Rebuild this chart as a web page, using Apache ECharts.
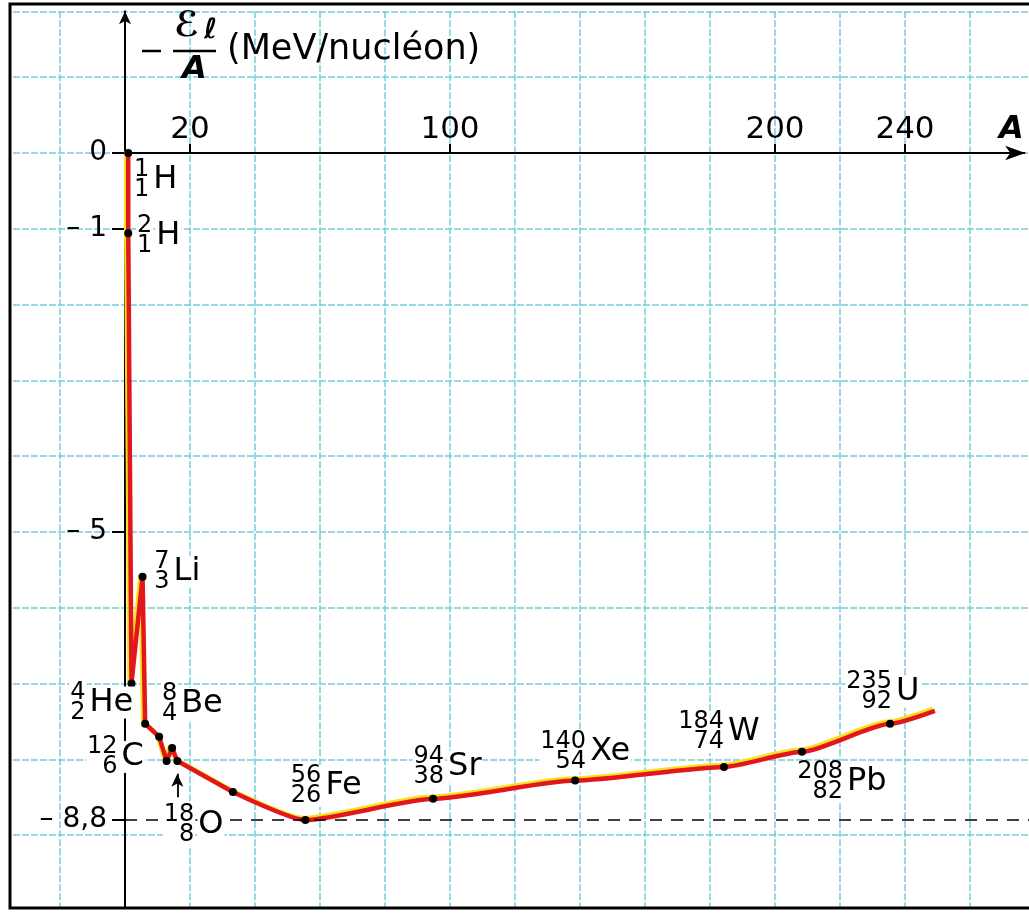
<!DOCTYPE html>
<html>
<head>
<meta charset="utf-8">
<script src="https://cdn.jsdelivr.net/npm/echarts@6/dist/echarts.min.js"></script>
<style>
    html, body { margin: 0; padding: 0; background: #fff; }
    #chart-aston { width: 1029px; height: 913px; }
</style>
</head>
<body>
<div id="chart-aston"></div>
<script>
// courbe d'Aston : -El/A (MeV/nucléon) en fonction de A
var massNumbers = [1, 1, 2, 5.4, 6.2, 10.5, 12.8, 14.5, 16.1, 33.2, 55.5, 94.8, 138.5, 184.3, 208.3, 235.4, 249.2];
var energies = [0, -1.06, -7.0, -5.59, -7.53, -7.7, -8.02, -7.85, -8.02, -8.43, -8.8, -8.52, -8.28, -8.1, -7.9, -7.53, -7.36];
var markedCount = 16;   // le dernier point (bout de la courbe) n'a pas de marque
var smoothFrom = 9;     // la courbe est lissée à partir de ce point

// noyaux annotés (indice du point, symbole, A, Z)
var isotopeIndex = [0, 1, 2, 3, 4, 6, 8, 10, 11, 12, 13, 14, 15];
var isotopeSymbols = ['H', 'H', 'He', 'Li', 'Be', 'C', 'O', 'Fe', 'Sr', 'Xe', 'W', 'Pb', 'U'];
var isotopeA = [1, 2, 4, 7, 8, 12, 18, 56, 94, 140, 184, 208, 235];
var isotopeZ = [1, 1, 2, 3, 4, 6, 8, 26, 38, 54, 74, 82, 92];
var oxygenIndex = 8;

var xTickLabels = [20, 100, 200, 240];
var yTickLabels = [0, -1, -5, -8.8];
var ironLevel = -8.8;

// décalage des étiquettes (px) par rapport au point
var labelOffsets = [[23, 27], [26, 2], [-44, 19], [29, -5], [34, -20], [-47, -4], [19, 64],
    [18, -34], [13, -32], [13, -29], [2, -35], [43, 30], [4, -32]];

var xMin = -40, xMax = 279, yMin = -11, yMax = 1.87;
var pxA = 3.25, pxE = 75.8, x0 = 125, y0 = 153;
var gridLeft = x0 + xMin * pxA, gridTop = y0 - yMax * pxE;
var FONT = 'DejaVu Sans';
var gridLine = { color: '#74cdda', width: 1.5, type: [7, 2] };

function pairs(from, to) {
    var out = [];
    for (var i = from; i < to; i++) out.push([massNumbers[i], energies[i]]);
    return out;
}

var curveStyle = {
    color: '#e3161c',
    width: 4.5,
    shadowColor: '#f6e21c',
    shadowBlur: 0,
    shadowOffsetX: -2,
    shadowOffsetY: -2
};

var numberLabels = isotopeIndex.map(function (p, i) {
    return {
        value: [massNumbers[p], energies[p]],
        label: {
            offset: [labelOffsets[i][0] - 1, labelOffsets[i][1]],
            formatter: '{n|' + isotopeA[i] + '}\n{n|' + isotopeZ[i] + '}'
        }
    };
});
var symbolLabels = isotopeIndex.map(function (p, i) {
    return {
        value: [massNumbers[p], energies[p]],
        label: {
            offset: [labelOffsets[i][0] + 1, labelOffsets[i][1]],
            formatter: isotopeSymbols[i]
        }
    };
});

var dom = document.getElementById('chart-aston');
var myChart = echarts.init(dom, null, { renderer: 'canvas' });

var option = {
    animation: false,
    backgroundColor: '#fff',
    grid: {
        left: gridLeft,
        right: 1029 - (x0 + xMax * pxA),
        top: gridTop,
        bottom: 913 - (y0 - yMin * pxE),
        containLabel: false,
        outerBoundsMode: 'none'
    },
    xAxis: [
        {
            type: 'value', min: xMin, max: xMax, interval: 20,
            axisLine: { show: false, onZero: false },
            axisTick: { show: false },
            axisLabel: { show: false },
            splitLine: { show: true, lineStyle: gridLine }
        },
        {
            // graduations et valeurs de A, posées sur la droite E = 0
            type: 'value', position: 'top', offset: -(y0 - gridTop),
            min: xMin, max: xMax, interval: 20,
            axisLine: { show: false, onZero: false },
            axisTick: { show: true, length: 9, customValues: xTickLabels, lineStyle: { color: '#000', width: 2 } },
            axisLabel: { margin: 8, customValues: xTickLabels, fontSize: 31, fontFamily: FONT, color: '#000' },
            splitLine: { show: false }
        }
    ],
    yAxis: [
        {
            type: 'value', min: yMin, max: yMax, interval: 1,
            axisLine: { show: false, onZero: false },
            axisTick: { show: false },
            axisLabel: { show: false },
            splitLine: { show: true, lineStyle: gridLine }
        },
        {
            // axe vertical posé sur A = 0
            type: 'value', position: 'left', offset: -(x0 - gridLeft),
            min: yMin, max: yMax, interval: 1,
            axisLine: {
                show: true, onZero: false,
                symbol: ['none', 'arrow'], symbolSize: [9, 13],
                lineStyle: { color: '#000', width: 2 }
            },
            axisTick: { show: true, length: 13, customValues: yTickLabels, lineStyle: { color: '#000', width: 2 } },
            axisLabel: {
                margin: 18, customValues: yTickLabels, fontSize: 28, fontFamily: FONT, color: '#000',
                formatter: function (v) {
                    return v === 0 ? '0' : '\u2013 ' + String(Math.abs(v)).replace('.', ',');
                }
            },
            splitLine: { show: false }
        }
    ],
    series: [
        {
            type: 'line',
            data: pairs(0, smoothFrom + 1),
            showSymbol: false,
            lineStyle: curveStyle,
            silent: true,
            z: 3,
            markLine: {
                silent: true,
                symbol: ['none', 'none'],
                label: { show: false },
                lineStyle: { color: '#000', width: 2, type: 'solid', opacity: 1 },
                data: [
                    [
                        { coord: [0, 0] },
                        { coord: [xMax - 2, 0], symbol: 'arrow', symbolSize: [11, 20] }
                    ],
                    [
                        { coord: [0, ironLevel], lineStyle: { color: '#000', width: 1.6, type: [12, 9] } },
                        { coord: [xMax, ironLevel] }
                    ],
                    [
                        { coord: [massNumbers[oxygenIndex], energies[oxygenIndex] - 0.48], lineStyle: { color: '#000', width: 1.8 } },
                        { coord: [massNumbers[oxygenIndex], energies[oxygenIndex] - 0.17], symbol: 'arrow', symbolSize: [9, 13] }
                    ]
                ]
            }
        },
        {
            type: 'line',
            data: pairs(smoothFrom, massNumbers.length),
            smooth: 0.2,
            smoothMonotone: 'x',
            showSymbol: false,
            lineStyle: curveStyle,
            silent: true,
            z: 3
        },
        {
            type: 'scatter',
            data: pairs(0, markedCount),
            symbolSize: 8,
            itemStyle: { color: '#000', opacity: 1 },
            silent: true,
            z: 4
        },
        {
            type: 'scatter',
            data: numberLabels,
            symbolSize: 1,
            itemStyle: { color: 'rgba(0,0,0,0)', opacity: 1 },
            silent: true,
            z: 5,
            label: {
                show: true, position: 'inside', align: 'right', verticalAlign: 'middle',
                backgroundColor: '#fff', padding: [1, 1],
                rich: { n: { fontSize: 24, lineHeight: 20, align: 'right', fontFamily: FONT, color: '#000' } }
            }
        },
        {
            type: 'scatter',
            data: symbolLabels,
            symbolSize: 1,
            itemStyle: { color: 'rgba(0,0,0,0)', opacity: 1 },
            silent: true,
            z: 5,
            label: {
                show: true, position: 'inside', align: 'left', verticalAlign: 'middle',
                backgroundColor: '#fff', padding: [0, 1],
                fontSize: 32, lineHeight: 32, fontFamily: FONT, color: '#000'
            }
        }
    ],
    graphic: [
        // titre de l'axe vertical : - El / A (MeV/nucléon)
        { type: 'line', z: 50, shape: { x1: 142, y1: 51, x2: 161, y2: 51 }, style: { stroke: '#000', lineWidth: 2.5 } },
        { type: 'text', left: 174, top: 9, z: 50, style: { text: '\u2130', font: 'bold 35px "DejaVu Sans"', fill: '#000' } },
        { type: 'text', left: 204, top: 17, z: 50, style: { text: '\u2113', font: 'italic bold 28px "DejaVu Sans"', fill: '#000' } },
        { type: 'line', z: 50, shape: { x1: 173, y1: 51, x2: 216, y2: 51 }, style: { stroke: '#000', lineWidth: 2.5 } },
        { type: 'text', left: 182, top: 54, z: 50, style: { text: 'A', font: 'italic bold 32px "DejaVu Sans"', fill: '#000' } },
        { type: 'text', left: 227, top: 32, z: 50, style: { text: '(MeV/nucléon)', font: '35px "DejaVu Sans"', fill: '#000' } },
        // nom de l'axe horizontal
        { type: 'text', left: 999, top: 114, z: 50, style: { text: 'A', font: 'italic bold 32px "DejaVu Sans"', fill: '#000' } },
        // cadre
        { type: 'rect', z: 60, shape: { x: 0, y: 0, width: 9, height: 913 }, style: { fill: '#fff' } },
        { type: 'rect', z: 60, shape: { x: 0, y: 0, width: 1029, height: 3 }, style: { fill: '#fff' } },
        { type: 'rect', z: 60, shape: { x: 0, y: 909, width: 1029, height: 4 }, style: { fill: '#fff' } },
        { type: 'rect', z: 61, shape: { x: 10, y: 4, width: 1040, height: 904 }, style: { fill: null, stroke: '#000', lineWidth: 3 } }
    ]
};

myChart.setOption(option);
window.addEventListener('resize', myChart.resize);
</script>
</body>
</html>
